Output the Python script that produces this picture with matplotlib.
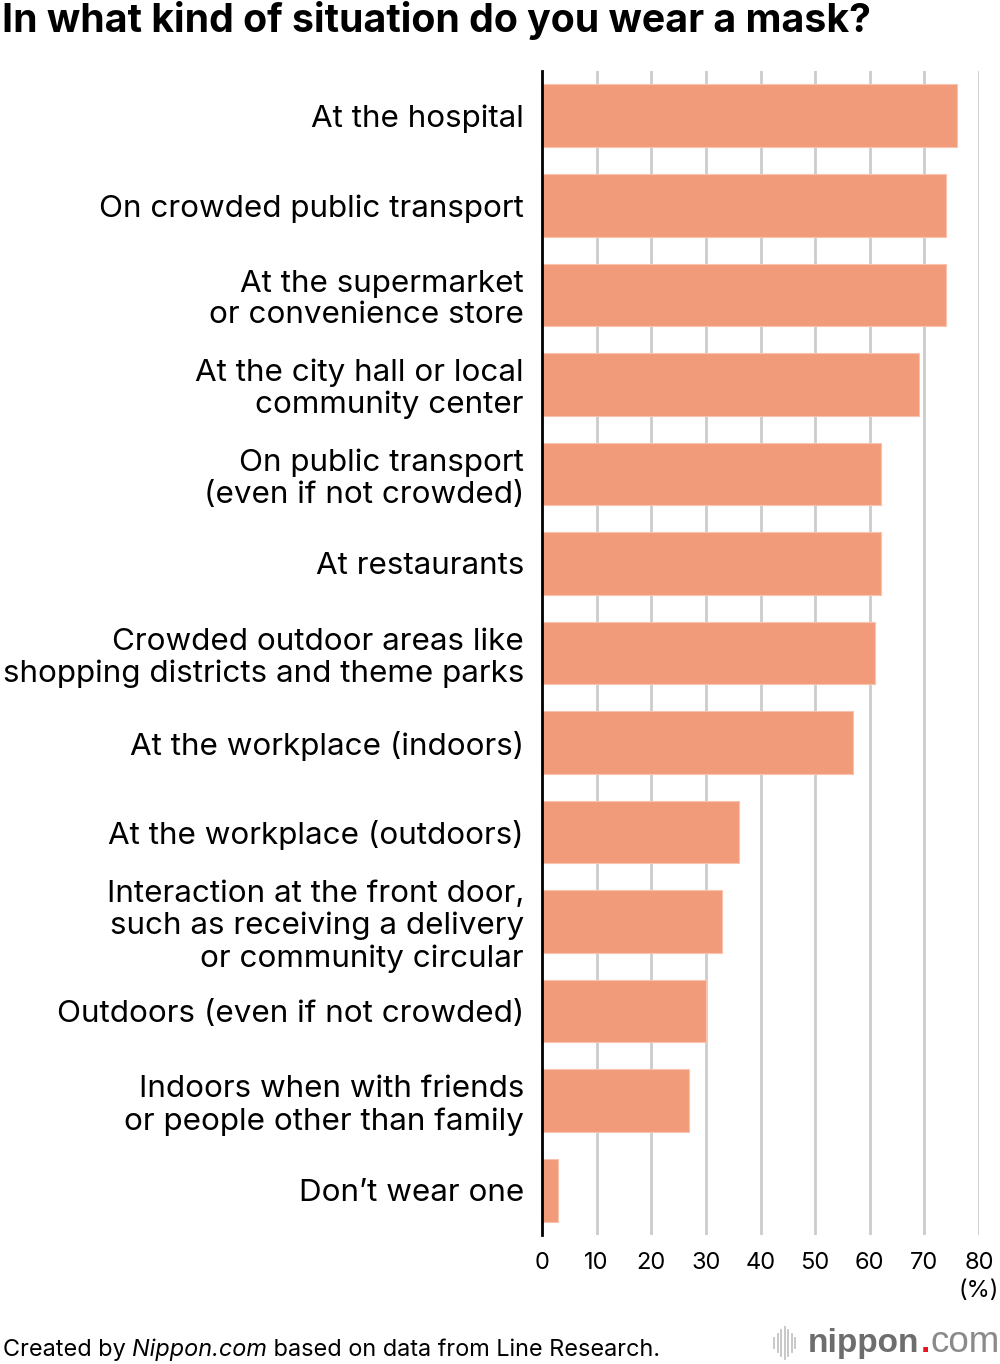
import matplotlib
matplotlib.use("Agg")
import matplotlib.pyplot as plt

plt.rcParams['font.family'] = ['Inter', 'DejaVu Sans']

categories = [
    "At the hospital",
    "On crowded public transport",
    "At the supermarket\nor convenience store",
    "At the city hall or local\ncommunity center",
    "On public transport\n(even if not crowded)",
    "At restaurants",
    "Crowded outdoor areas like\nshopping districts and theme parks",
    "At the workplace (indoors)",
    "At the workplace (outdoors)",
    "Interaction at the front door,\nsuch as receiving a delivery\nor community circular",
    "Outdoors (even if not crowded)",
    "Indoors when with friends\nor people other than family",
    "Don\u2019t wear one",
]
values = [76, 74, 74, 69, 62, 62, 61, 57, 36, 33, 30, 27, 3]
ticks = [0, 10, 20, 30, 40, 50, 60, 70, 80]
title = "In what kind of situation do you wear a mask?"

W, H = 1000, 1364
fig = plt.figure(figsize=(W / 100, H / 100), dpi=100)
ax = fig.add_axes([542 / W, 1 - 1235 / H, (979 - 542) / W, (1235 - 71) / H])

n = len(categories)
ypos = list(range(n))
ax.barh(ypos, values, height=0.70, color="#F29B7A", edgecolor="#F7C2AE", linewidth=0.8, zorder=3)
ax.set_ylim(n - 0.5, -0.5)
ax.set_xlim(0, 80)

for t in ticks[1:]:
    ax.axvline(t, color="#cccccc", linewidth=2, zorder=1)

for s in ["top", "right", "bottom"]:
    ax.spines[s].set_visible(False)
ax.spines["left"].set_linewidth(2)
ax.spines["left"].set_color("black")
ax.spines["left"].set_zorder(4)

ax.set_yticks(ypos)
ax.set_yticklabels(categories, fontsize=22.6, linespacing=1.16, ha="right")
ax.tick_params(axis="y", length=0, pad=13)
ax.set_xticks(ticks)
ax.set_xticklabels([str(t) for t in ticks], fontsize=17)
ax.tick_params(axis="x", length=0, pad=12)

fig.text(979 / W, 1 - 1291 / H, "(%)", fontsize=17, ha="center", va="center")
fig.text(2 / W, 1 - 20 / H, title, fontsize=28.3, fontweight="bold", ha="left", va="center")

# footer
fx = 3 / W
fy = 1 - 1350 / H
t1 = fig.text(fx, fy, "Created by ", fontsize=16.9, ha="left", va="center")
fig.canvas.draw()
r = fig.canvas.get_renderer()
bb = t1.get_window_extent(r)
t2 = fig.text(bb.x1 / W, fy, "Nippon.com", fontsize=16.9, style="italic", ha="left", va="center")
bb2 = t2.get_window_extent(r)
fig.text(bb2.x1 / W, fy, " based on data from Line Research.", fontsize=16.9, ha="left", va="center")

# logo
logo_fam = ['Liberation Sans', 'DejaVu Sans']
lx = 808 / W
ly = 1 - 1352 / H
l1 = fig.text(lx, ly, "nippon", fontsize=24, fontweight="bold", color="#6d6d6d",
              family=logo_fam, ha="left", va="baseline")
fig.canvas.draw()
b1 = l1.get_window_extent(r)
l2 = fig.text((b1.x1 + 1) / W, ly, ".", fontsize=24, fontweight="bold", color="#e8141e",
              family=logo_fam, ha="left", va="baseline")
b2 = l2.get_window_extent(r)
fig.text((b2.x1 + 1) / W, ly, "com", fontsize=26.5, color="#8a8a8a",
         family=logo_fam, ha="left", va="baseline")
hs = [5, 9, 13, 16, 13, 9, 5]
for i, hh in enumerate(hs):
    x = 774 + i * 3.5
    fig.add_artist(plt.Line2D([x / W, x / W], [1 - (1343 + hh) / H, 1 - (1343 - hh) / H],
                              color="#c4c4c4", linewidth=1.3))

fig.savefig("out.png", dpi=100)
